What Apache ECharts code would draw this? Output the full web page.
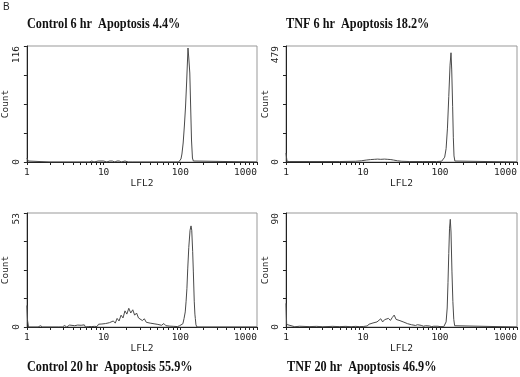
<!DOCTYPE html>
<html>
<head>
<meta charset="utf-8">
<script src="https://cdn.jsdelivr.net/npm/echarts@6/dist/echarts.min.js"></script>
<style>
html,body{margin:0;padding:0;background:#fff;}
#chart{width:520px;height:377px;}
</style>
</head>
<body>
<div id="chart"></div>
<script>
// Panel titles
const titles = [
  'Control 6 hr  Apoptosis 4.4%',
  'TNF 6 hr  Apoptosis 18.2%',
  'Control 20 hr  Apoptosis 55.9%',
  'TNF 20 hr  Apoptosis 46.9%'
];
// y-axis maxima (Count)
const yMax = [116, 479, 53, 90];
// x-axis tick values (LFL2, log scale)
const xTickValues = [1,2,3,4,5,6,7,8,9,10,20,30,40,50,60,70,80,90,100,200,300,400,500,600,700,800,900,1000];
const xLabelValues = [1, 10, 100, 1000];

// Histogram data [LFL2, Count]
const control6 = [[1,4],[1.04,1],[1.1,0],[2,0],[4,0],[6.5,0],[7,1],[7.5,0],[8.5,1],[9,0],[10,1],[11,0],[12,1],[13,1],[14,0],[15,1],[16,1],[17,0],[19,1],[21,0],[22,1],[24,0],[30,0],[60,0],[95,0],[100,1],[102,3],[105,8],[109,19],[113,36],[117,55],[121,80],[126,114],[129,104],[133,89],[136,60],[140,22],[144,4],[148,1],[152,0],[1000,0]];
const tnf6 = [[1,37],[1.03,3],[1.1,2],[2,2],[5,2],[8,3],[9.5,5],[11,8],[12.5,10],[14,11],[15.5,12],[17,11],[19,12],[21,11],[23,10],[25,8],[28,5],[32,3],[40,2],[60,2],[90,2],[105,3],[110,8],[115,20],[120,55],[125,140],[130,270],[135,400],[139,451],[142,380],[146,228],[149,100],[152,25],[156,4],[162,1],[1000,0]];
const control20 = [[1,10],[1.02,3],[1.05,0],[1.1,0.6],[1.2,0],[1.4,0],[1.5,0.6],[1.6,0],[2,0],[2.4,0],[2.5,0.9],[2.6,0],[2.9,0],[3.1,0.7],[3.3,0],[3.6,0.9],[3.8,0],[4.2,0.6],[4.4,0],[4.6,0.9],[4.8,0],[5.1,0.8],[5.3,0],[5.6,1],[5.8,0],[6.1,0.8],[6.4,0.2],[6.7,1],[7,0.2],[7.3,1.1],[7.6,0.3],[7.9,1],[8.2,0.2],[8.6,1.3],[9,0.4],[9.5,1.4],[10,0.5],[10.6,1.6],[11.2,0.8],[11.9,2],[12.6,1.2],[13.4,2.8],[14.2,1.8],[15,4],[15.9,2.8],[16.9,5.5],[17.9,4.2],[19,7.5],[20.1,6],[21.3,8.7],[22.6,6.5],[24,8],[25.4,5.5],[26.9,6.5],[28.5,4.2],[30.2,5],[32,3],[34,3.8],[36,2.2],[38,3],[40.5,1.8],[43,2.6],[45.5,1.5],[48,2.3],[51,1.2],[54,2],[57,0.8],[61,1.6],[65,0.6],[69,1.3],[73,0.4],[77,1],[82,0.3],[87,0.8],[92,0.2],[98,0.6],[104,0.3],[108,1.5],[112,4],[116,7],[119,12],[122,18],[125,27],[129,37],[134,45],[138,47],[141,45],[145,35],[148,25.6],[152,12],[155,6],[157,4],[160,1],[165,0],[1000,0]];
const tnf20 = [[1,18.7],[1.02,2],[1.05,0.5],[1.3,0.2],[1.5,0.6],[2,0.3],[2.5,0.5],[3,0.2],[4,0.5],[5,0.3],[6,0.5],[7,0.2],[8,0.5],[9,0.3],[9.5,1],[10.1,0.4],[10.7,1.6],[11.3,0.8],[12,2.2],[12.7,1.3],[13.5,3.2],[14.3,2.2],[15.2,4],[16.1,3.3],[17,6.5],[18,4],[19.1,5.8],[20.2,4.5],[21.4,6.8],[22.7,5.2],[24,7.5],[25.4,9.4],[26.9,6],[28.5,7.5],[30.2,5],[32,6],[34,3.8],[36,4.5],[38,2.6],[40.3,3.2],[42.7,1.8],[45.3,2.4],[48,1.2],[51,1.8],[54,0.8],[57,1.3],[61,0.6],[65,1],[69,0.4],[73,0.8],[78,0.3],[83,0.6],[88,0.3],[94,0.6],[100,0.3],[106,0.5],[112,0.3],[116,1],[120,4],[124,15],[127,35],[130,58],[133,78],[136,85],[139,75],[143,43.5],[147,20],[151,6],[155,1],[160,0],[1000,0]];

const panels = [control6, tnf6, control20, tnf20];

const grids = [
  {left: 24, top: 46, width: 233, height: 116},
  {left: 286, top: 46, width: 231, height: 116},
  {left: 24, top: 213, width: 233, height: 114},
  {left: 286, top: 213, width: 231, height: 114}
];
const titlePos = [[27, 17], [286, 17], [27, 360], [287, 360]];

const mono = 'DejaVu Sans Mono';
const axisColor = '#222';

const option = {
  animation: false,
  backgroundColor: '#fff',
  title: [{text: 'B', left: 3, top: 2, padding: 0, textStyle: {fontFamily: 'Liberation Sans', fontSize: 10, fontWeight: 'normal', color: '#222'}}],
  graphic: titles.map((t, i) => ({
    type: 'text', x: titlePos[i][0], y: titlePos[i][1], scaleX: 0.815, originX: 0, originY: 0, silent: true,
    style: {text: t, font: 'bold 15px "Liberation Serif"', fill: '#111', textVerticalAlign: 'top', verticalAlign: 'top', align: 'left'}
  })),
  grid: grids.map(g => Object.assign({show: true, borderColor: '#999', borderWidth: 1, backgroundColor: 'transparent'}, g)),
  xAxis: grids.map((g, i) => ({
    type: 'log', logBase: 10, gridIndex: i, min: 1, max: 1000,
    name: 'LFL2', nameLocation: 'middle', nameGap: 15,
    nameTextStyle: {fontFamily: mono, fontSize: 9.5, color: '#222'},
    axisLine: {show: true, lineStyle: {color: axisColor, width: 1}},
    axisTick: {show: true, length: 3, inside: false, customValues: xTickValues, lineStyle: {color: axisColor}},
    axisLabel: {show: true, margin: 6, customValues: xLabelValues, fontFamily: mono, fontSize: 9.5, color: '#222',
      formatter: v => String(Math.round(v)), alignMaxLabel: 'right'},
    splitLine: {show: false}, minorTick: {show: false}
  })),
  yAxis: grids.map((g, i) => ({
    type: 'value', gridIndex: i, min: 0, max: yMax[i], interval: yMax[i] / 4,
    name: 'Count', nameLocation: 'middle', nameGap: 13,
    nameTextStyle: {fontFamily: mono, fontSize: 9.5, color: '#222'},
    axisLine: {show: true, lineStyle: {color: axisColor, width: 1}},
    axisTick: {show: true, length: 3, inside: false, lineStyle: {color: axisColor}},
    axisLabel: {show: true, rotate: 90, margin: 5, fontFamily: mono, fontSize: 9.5, color: '#222',
      formatter: v => (v === 0 || v === yMax[i]) ? String(v) : '', alignMaxLabel: 'right'},
    splitLine: {show: false}
  })),
  series: panels.map((d, i) => ({
    type: 'line', xAxisIndex: i, yAxisIndex: i, data: d,
    showSymbol: false, symbol: 'none', silent: true,
    lineStyle: {color: '#4a4a4a', width: 1}
  }))
};

const chart = echarts.init(document.getElementById('chart'), null, {renderer: 'canvas'});
chart.setOption(option);
</script>
</body>
</html>
